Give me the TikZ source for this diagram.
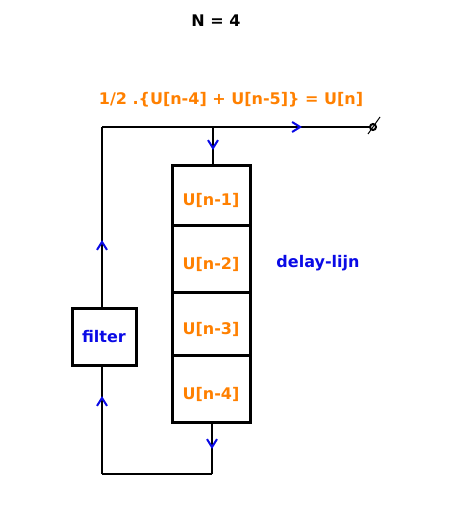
\documentclass[tikz,border=0pt]{standalone}
\usepackage{fontspec}
\setmainfont{DejaVu Sans}
\usetikzlibrary{arrows.meta, positioning, decorations.markings, calc}
\definecolor{lorange}{RGB}{255,128,0}
\definecolor{lblue}{RGB}{10,10,230}

\begin{document}
\begin{tikzpicture}[x=1pt, y=-1pt, font=\fontsize{16}{19}\selectfont\bfseries]
        \tikzset{cell/.style = {shape=rectangle, draw, line width=3pt, outer sep=0pt,
            minimum width=78pt, text=lorange, text height=25pt, text depth=4pt}}
        \tikzset{wire/.style = {line width=2pt}}
        \tikzset{chev/.style = {postaction={decorate, decoration={markings,
            mark=at position #1 with {\arrow[lblue, line width=2pt]{Straight Barb[length=8pt, width=10pt]}}}}}}
        \useasboundingbox (0,0) rectangle (463,514);
        \node (title) at (216,21) {N = 4};
        \node[text=lorange] (sum) at (231,100) {1/2 .\{U[n-4] + U[n-5]\} = U[n]};
        \node[cell, minimum height=60pt] (d1) at (211,195) {U[n-1]};
        \node[cell, minimum height=67pt, below=0pt of d1] (d2) {U[n-2]};
        \node[cell, minimum height=63pt, below=0pt of d2] (d3) {U[n-3]};
        \node[cell, minimum height=67pt, below=0pt of d3] (d4) {U[n-4]};
        \node[text=lblue] (lbl) at (318,263) {delay-lijn};
        \node[shape=rectangle, draw, line width=3pt, outer sep=0pt, minimum width=64pt,
            minimum height=57pt, text=lblue] (filter) at (104,336.5) {filter};
        \node[shape=circle, draw, line width=2pt, inner sep=0pt, minimum size=6pt] (out) at (373,127) {};
        \coordinate (tl) at (102,127);
        \coordinate (tap) at (213,127);
        \coordinate (bl) at (102,474);
        \coordinate (br) at (212,474);
        \draw[wire, chev=68pt] (tl |- filter.north) to (tl);
        \draw[wire, chev=200pt] (tl) to (out);
        \draw[wire, chev=23pt] (tap) to (tap |- d1.north);
        \draw[wire, chev=27pt] (br |- d4.south) to (br);
        \draw[wire] (br) to (bl);
        \draw[wire, chev=78pt] (bl) to (bl |- filter.south);
        \draw[line width=1pt] ($(out)+(-5,7)$) -- ($(out)+(7,-10)$);
      \end{tikzpicture}
\end{document}
